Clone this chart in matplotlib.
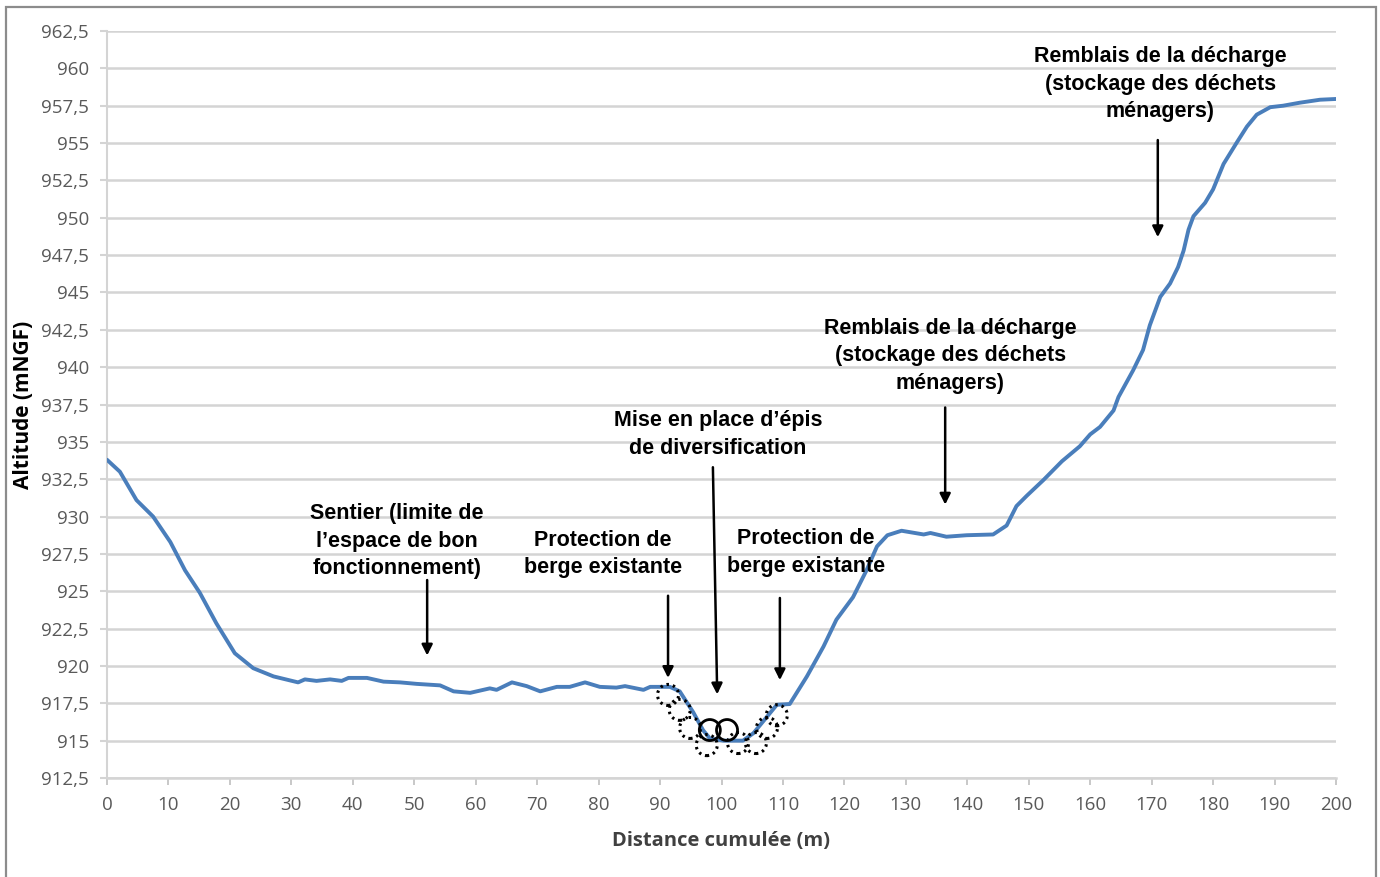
import matplotlib
matplotlib.use("Agg")
import matplotlib.pyplot as plt
from matplotlib.patches import Ellipse, Rectangle
from matplotlib.ticker import FuncFormatter, MultipleLocator

# ---------------- data ----------------
distance = [0, 2.1, 4.8, 7.5, 10.3, 12.7, 15.1, 17.8, 20.8, 23.8, 27.1, 31.1, 32.2, 34.1,
            36.3, 38.2, 39.3, 42.3, 45.0, 47.7, 50.4, 54.2, 56.4, 59.1, 62.3, 63.4, 65.9,
            68.3, 70.5, 73.2, 75.3, 77.8, 80.2, 82.9, 84.3, 87.3, 88.4, 91.6, 93.2, 95.4,
            97.0, 98.1, 100.3, 103.5, 105.2, 107.4, 109.0, 111.1, 113.9, 116.6, 118.7,
            121.4, 123.6, 125.3, 127.0, 129.3, 132.9, 134.0, 136.6, 139.9, 144.2, 146.4,
            148.0, 149.7, 152.4, 155.4, 158.3, 160.0, 161.6, 163.8, 164.6, 167.0, 168.6,
            169.7, 171.4, 173.0, 174.3, 175.2, 176.0, 176.8, 178.7, 180.0, 181.7, 183.8,
            185.5, 187.1, 189.3, 191.4, 194.1, 197.4, 200]
altitude = [933.8, 933.0, 931.1, 930.0, 928.3, 926.4, 924.9, 922.85, 920.85, 919.85, 919.3,
            918.9, 919.1, 919.0, 919.1, 919.0, 919.2, 919.2, 918.95, 918.9, 918.8, 918.7,
            918.3, 918.2, 918.5, 918.4, 918.9, 918.65, 918.3, 918.6, 918.6, 918.9, 918.6,
            918.55, 918.65, 918.4, 918.6, 918.6, 918.3, 916.9, 915.7, 915.15, 915.0, 915.0,
            915.5, 916.6, 917.4, 917.45, 919.3, 921.3, 923.1, 924.6, 926.4, 928.0, 928.75,
            929.05, 928.8, 928.9, 928.65, 928.75, 928.8, 929.4, 930.7, 931.4, 932.45, 933.7,
            934.7, 935.5, 936.0, 937.1, 938.0, 939.8, 941.15, 942.8, 944.7, 945.6, 946.7,
            947.8, 949.2, 950.1, 951.0, 951.9, 953.6, 955.0, 956.1, 956.9, 957.4, 957.5,
            957.7, 957.9, 957.95]

# annotation labels
labels = [
    "Remblais de la décharge\n(stockage des déchets\nménagers)",
    "Remblais de la décharge\n(stockage des déchets\nménagers)",
    "Mise en place d’épis\nde diversification",
    "Protection de\nberge existante",
    "Protection de\nberge existante",
    "Sentier (limite de\nl’espace de bon\nfonctionnement)",
]
label_x = [171.4, 137.2, 99.4, 80.7, 113.75, 47.2]
label_y = [958.95, 940.75, 935.5, 927.5, 927.6, 928.35]
arrow_x0 = [171.0, 136.4, 98.6, 91.3, 109.5, 52.1]
arrow_y0 = [955.2, 937.3, 933.3, 924.7, 924.55, 925.75]
arrow_x1 = [171.0, 136.4, 99.3, 91.3, 109.5, 52.1]
arrow_y1 = [948.7, 930.8, 918.1, 919.2, 919.05, 920.7]

# bank protection blocks (dotted) and groynes (solid)
dotted_x = [91.3, 93.2, 94.9, 97.6, 102.7, 105.6, 107.4, 109.0]
dotted_y = [918.06, 917.06, 915.85, 914.7, 914.84, 914.84, 915.85, 916.7]
solid_x = [98.1, 100.9]
solid_y = [915.71, 915.71]

xticks = list(range(0, 201, 10))

# ---------------- figure ----------------
W, H = 1380, 877
fig = plt.figure(figsize=(W / 100, H / 100), dpi=100)
ax = fig.add_axes([107 / W, (H - 778) / H, (1336 - 107) / W, (778 - 31) / H])

grid_c = "#d4d4d4"
tick_c = "#595959"

ax.set_xlim(0, 200)
ax.set_ylim(912.5, 962.5)
ax.yaxis.set_major_locator(MultipleLocator(2.5))
ax.set_xticks(xticks)
fmt = FuncFormatter(lambda v, p: f"{v:g}".replace(".", ","))
ax.yaxis.set_major_formatter(fmt)

ax.grid(axis="y", color=grid_c, lw=1.8, zorder=0)
ax.set_axisbelow(True)
for s in ["top", "right"]:
    ax.spines[s].set_visible(False)
ax.spines["left"].set_color(grid_c)
ax.spines["left"].set_linewidth(1.5)
ax.spines["bottom"].set_color(grid_c)
ax.spines["bottom"].set_linewidth(1.8)

ax.tick_params(axis="y", length=5, width=1.5, color=grid_c, pad=8,
               labelsize=13.5, labelcolor=tick_c)
ax.tick_params(axis="x", length=5, width=1.2, color="#bfbfbf", pad=8,
               labelsize=13.5, labelcolor=tick_c)
for lab in ax.get_xticklabels() + ax.get_yticklabels():
    lab.set_fontfamily("Open Sans")

ax.plot(distance, altitude, color="#4a7ebb", lw=2.8, zorder=3, solid_capstyle="round")

# protection circles
px_per_x = (1336 - 107) / 200
px_per_y = (778 - 31) / 50
r = 10.5
for cx, cy in zip(dotted_x, dotted_y):
    ax.add_patch(Ellipse((cx, cy), 2 * r / px_per_x, 2 * r / px_per_y, fill=False,
                         ec="black", lw=2.2, ls=(0, (0.8, 1.3)), zorder=4))
for cx, cy in zip(solid_x, solid_y):
    ax.add_patch(Ellipse((cx, cy), 2 * r / px_per_x, 2 * r / px_per_y, fill=False,
                         ec="black", lw=2.0, zorder=4))

# annotations
for t, tx, ty in zip(labels, label_x, label_y):
    ax.text(tx, ty, t, ha="center", va="center", fontsize=15.5, fontweight="bold",
            family="Liberation Sans", linespacing=1.42, color="black", zorder=5)
for x0, y0, x1, y1 in zip(arrow_x0, arrow_y0, arrow_x1, arrow_y1):
    ax.annotate("", xy=(x1, y1), xytext=(x0, y0),
                arrowprops=dict(arrowstyle="-|>", color="black", lw=1.8,
                                mutation_scale=16, shrinkA=0, shrinkB=0), zorder=5)

ax.set_xlabel("Distance cumulée (m)", fontsize=14.5, fontweight="bold",
              family="Open Sans", color="#404040", labelpad=12)
ax.set_ylabel("Altitude (mNGF)", fontsize=15, fontweight="bold",
              family="Open Sans", color="black", labelpad=2)
ax.yaxis.set_label_coords((34 - 107) / (1336 - 107), 0.5)

# outer chart frame
fig.patches.append(Rectangle((6 / W, -0.02), (1376 - 6) / W, (H - 7) / H + 0.02,
                             transform=fig.transFigure, fill=False, ec="#8c8c8c",
                             lw=1.6, zorder=10))

fig.savefig("out.png", dpi=100)
